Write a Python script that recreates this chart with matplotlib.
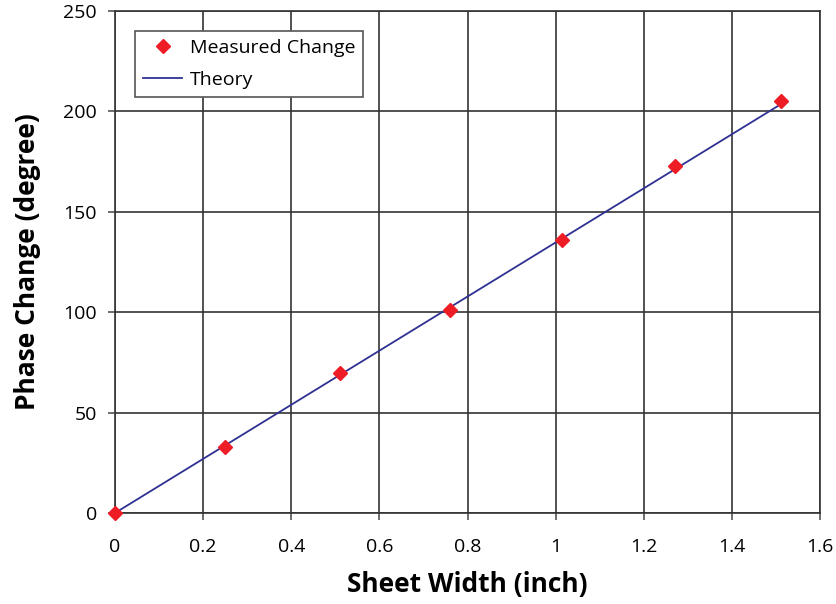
import matplotlib
matplotlib.use("Agg")
import matplotlib.pyplot as plt

# measured data
width_in = [0, 0.25, 0.51, 0.76, 1.015, 1.27, 1.51]
phase_deg = [0, 33, 69.5, 101, 136, 173, 205]

# theory line
theory_x = [0, 1.51]
theory_y = [0, 203.5]

xticks = [0, 0.2, 0.4, 0.6, 0.8, 1, 1.2, 1.4, 1.6]
xtick_labels = ['0', '0.2', '0.4', '0.6', '0.8', '1', '1.2', '1.4', '1.6']
yticks = [0, 50, 100, 150, 200, 250]

plt.rcParams['font.family'] = ['Open Sans', 'DejaVu Sans']

fig = plt.figure(figsize=(8.37, 6.04), dpi=100)
ax = fig.add_axes([0.1374, 0.1507, 0.8426, 0.8311])

ax.plot(width_in, phase_deg, 'D', color='#ee1c25', markersize=7, label='Measured Change',
        zorder=3, clip_on=False)
ax.plot(theory_x, theory_y, '-', color='#2e3192', linewidth=1.3, label='Theory', zorder=2)

ax.set_xlim(0, 1.6)
ax.set_ylim(0, 250)
ax.set_xticks(xticks)
ax.set_xticklabels(xtick_labels)
ax.set_yticks(yticks)
ax.grid(True, color='#333333', linewidth=1.2)
ax.set_axisbelow(True)
for s in ax.spines.values():
    s.set_color('#333333')
    s.set_linewidth(1.2)
ax.tick_params(axis='both', labelsize=14, length=5, width=1.2, color='#555555')
ax.tick_params(axis='x', pad=13)
ax.tick_params(axis='y', pad=8)

ax.set_xlabel('Sheet Width (inch)', fontsize=19, fontweight='bold', labelpad=11)
ax.set_ylabel('Phase Change (degree)', fontsize=19, fontweight='bold', labelpad=16)

leg = ax.legend(loc='upper left', bbox_to_anchor=(0.015, 0.98), fontsize=14, frameon=True,
                fancybox=False, edgecolor='#555555', framealpha=1, borderpad=0.4,
                labelspacing=0.75, handlelength=2.0, handletextpad=0.4)
leg.get_frame().set_linewidth(1.2)

fig.savefig('out.png', dpi=100)
